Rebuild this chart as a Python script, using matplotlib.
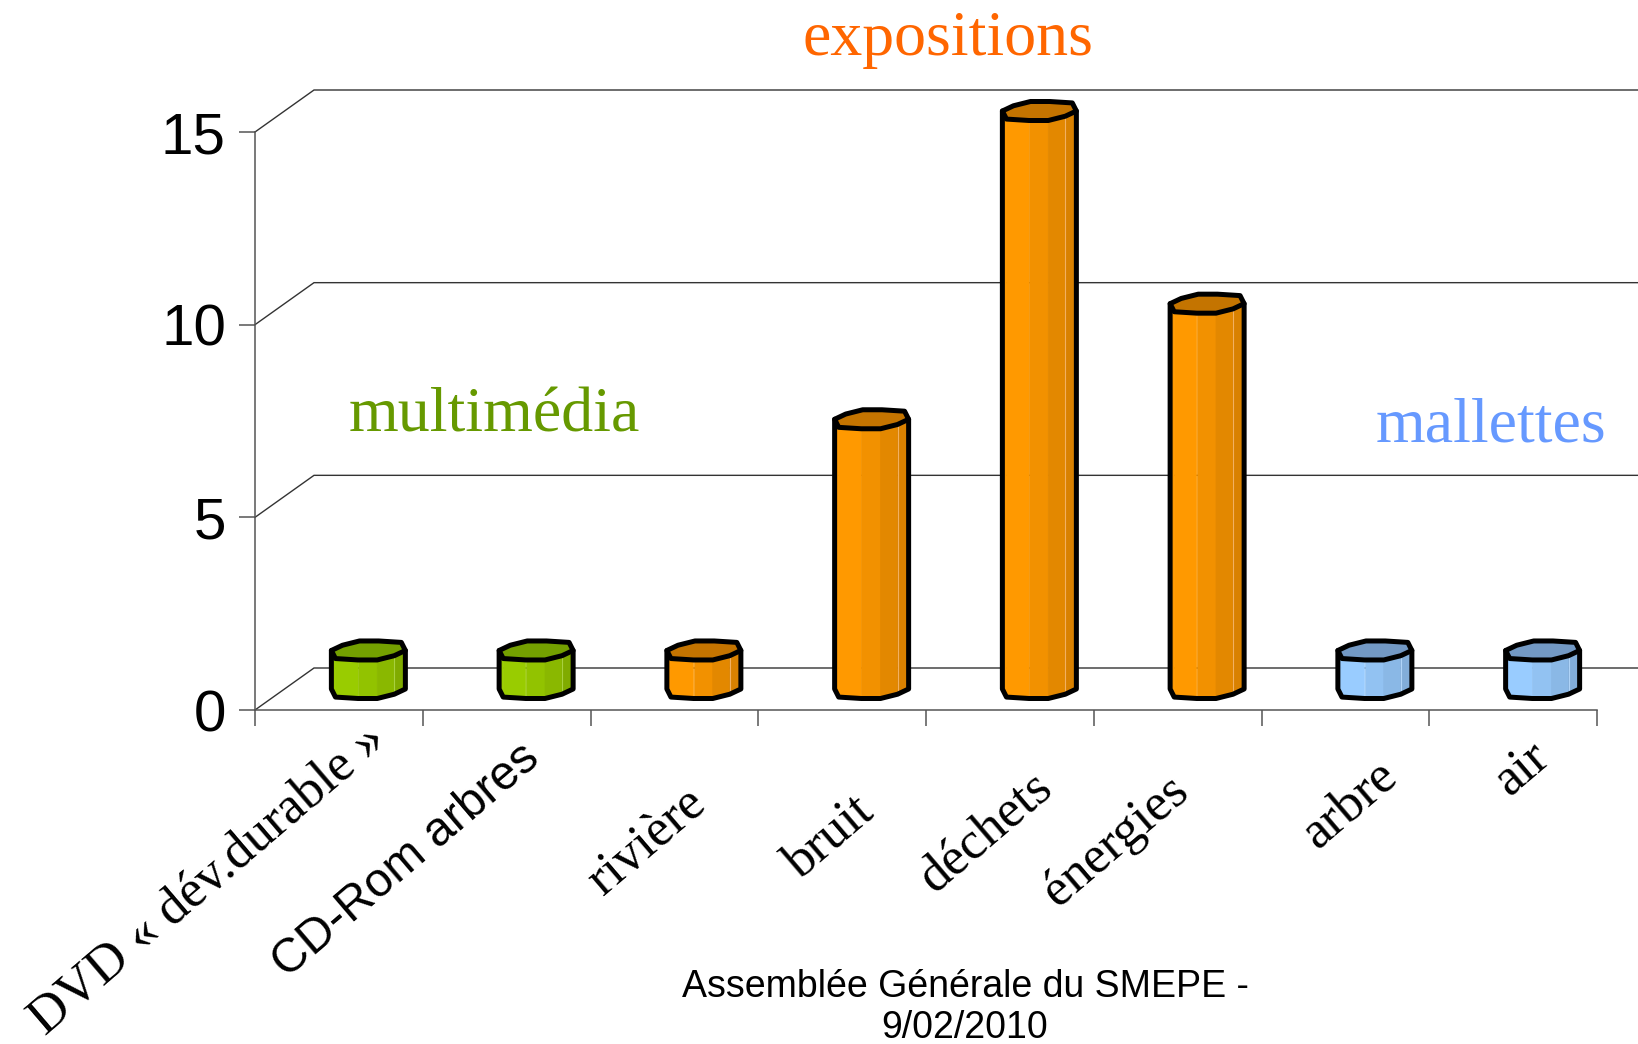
import matplotlib
matplotlib.use('Agg')
import matplotlib.pyplot as plt
from matplotlib.patches import Polygon
import matplotlib.transforms as mtrans
import numpy as np

# ---------------- data ----------------
categories = ['DVD « dév.durable »', 'CD-Rom arbres', 'rivière', 'bruit',
              'déchets', 'énergies', 'arbre', 'air']
values = [1, 1, 1, 7, 15, 10, 1, 1]
groups = ['multimédia', 'multimédia', 'expositions', 'expositions',
          'expositions', 'expositions', 'mallettes', 'mallettes']
group_names = ['multimédia', 'expositions', 'mallettes']
yticks = [0, 5, 10, 15]
footer_lines = ['Assemblée Générale du SMEPE -', '9/02/2010']

# ---------------- styles ----------------
label_fonts = ['serif', 'sans', 'serif', 'serif', 'serif', 'serif', 'serif', 'serif']
# label anchor offsets in pixels (right, down) from the category centre on the axis
label_offsets = [(25, 5), (12, 25), (9, 69), (9, 77), (20, 53), (-11, 56), (30, 41), (14, 22)]
SERIF = ['Liberation Serif', 'DejaVu Serif']
SANS = ['Liberation Sans', 'DejaVu Sans']
group_text_colors = {'multimédia': '#669900', 'expositions': '#FF6600', 'mallettes': '#6699FF'}
facet_colors = {
    'multimédia': ['#99CC00', '#99CC00', '#92C300', '#8AB800', '#80AB00'],
    'expositions': ['#FF9900', '#FF9900', '#F29100', '#E38800', '#D98100'],
    'mallettes': ['#99CCFF', '#99CCFF', '#92C2F2', '#8AB8E6', '#82ADD9'],
}
top_colors = {'multimédia': '#74A000', 'expositions': '#C47400', 'mallettes': '#7399C4'}
highlight_colors = {'multimédia': '#A8D040', 'expositions': '#F2B060', 'mallettes': '#B0D4F8'}

W, H = 1638, 1044
fig = plt.figure(figsize=(W / 100, H / 100), dpi=100)
fig.patch.set_facecolor('white')

x0px, x1px, y0px, y1px = 255, 1597, 710, 132
ax = fig.add_axes([x0px / W, 1 - y0px / H, (x1px - x0px) / W, (y0px - y1px) / H])
n = len(categories)
ax.set_xlim(0, n)
ax.set_ylim(0, max(yticks))
ax.patch.set_visible(False)

px_x = (x1px - x0px) / n
px_y = (y0px - y1px) / max(yticks)
DX = 59 / px_x   # depth offset of the back wall (data units)
DY = 42 / px_y

# back wall gridlines
for g in yticks:
    ax.plot([0, DX, n + 0.5], [g, g + DY, g + DY], color='#333333', lw=1.0,
            clip_on=False, zorder=1, solid_joinstyle='miter')

# axes
for s in ['top', 'right']:
    ax.spines[s].set_visible(False)
for s in ['left', 'bottom']:
    ax.spines[s].set_color('#555555')
    ax.spines[s].set_linewidth(1.1)
    ax.spines[s].set_zorder(2)
ax.set_yticks(yticks)
ax.set_yticklabels([str(t) for t in yticks], fontsize=42, family=SANS)
ax.tick_params(axis='y', length=11.5, width=1.1, color='#555555', pad=9.4, direction='out')
ax.set_xticks(np.arange(0, n + 1))
ax.set_xticklabels([''] * (n + 1))
ax.tick_params(axis='x', length=11.5, width=1.1, color='#555555', direction='out')

# bar cross-section (u: -1..1 across, f: +1 front, -1 back)
front = [(-1.0, 0.0), (-0.89, 0.85), (-0.28, 1.0), (0.24, 1.0), (0.70, 0.55), (1.0, 0.0)]
back = [(-u, -f) for (u, f) in front[1:-1]]
ring = front + back
rx = 37 / px_x
ry = 9.5 / px_y

for i, (v, g) in enumerate(zip(values, groups)):
    cx = i + 0.5 + 0.5 * DX
    ct = v + 0.5 * DY
    cb = 0 + 0.5 * DY
    pt = lambda u, f, c: (cx + u * rx, c - f * ry)
    cols = facet_colors[g]
    for k in range(len(front) - 1):
        (u1, f1), (u2, f2) = front[k], front[k + 1]
        quad = [pt(u1, f1, ct), pt(u2, f2, ct), pt(u2, f2, cb), pt(u1, f1, cb)]
        ax.add_patch(Polygon(quad, closed=True, facecolor=cols[k], edgecolor=cols[k],
                             lw=0.5, zorder=3, clip_on=False))
    uh, fh = front[4]
    ax.plot([pt(uh, fh, ct)[0], pt(uh, fh, cb)[0]], [pt(uh, fh, ct)[1], pt(uh, fh, cb)[1]],
            color=highlight_colors[g], lw=0.8, zorder=3.5, clip_on=False)
    outline = [pt(*front[0], ct)] + [pt(u, f, cb) for (u, f) in front] + [pt(*front[-1], ct)]
    ox, oy = zip(*outline)
    ax.plot(ox, oy, color='black', lw=3.6, solid_joinstyle='round',
            solid_capstyle='round', zorder=4, clip_on=False)
    top = [pt(u, f, ct) for (u, f) in ring]
    ax.add_patch(Polygon(top, closed=True, facecolor=top_colors[g], edgecolor='black',
                         lw=3.6, joinstyle='round', zorder=5, clip_on=False))

# category labels
for i, (lab, fnt, (odx, ody)) in enumerate(zip(categories, label_fonts, label_offsets)):
    fam = SERIF if fnt == 'serif' else SANS
    size = 38 if fnt == 'serif' else 34.5
    offset = mtrans.ScaledTranslation(odx / 100, -ody / 100, fig.dpi_scale_trans)
    ax.text(i + 0.5, 0, lab, rotation=40.5, ha='right', va='top', rotation_mode='anchor',
            transform=ax.transData + offset, fontsize=size, family=fam, color='black',
            clip_on=False)

# group titles
group_pos = {'multimédia': (494, 431), 'expositions': (948, 55), 'mallettes': (1491, 442)}
for gname in group_names:
    gx, gy = group_pos[gname]
    fig.text(gx / W, 1 - gy / H, gname, ha='center', va='baseline', fontsize=46,
             family=SERIF, color=group_text_colors[gname])

# footer
fig.text(965 / W, 1 - 997 / H, footer_lines[0], ha='center', va='baseline',
         fontsize=27, family=SANS, color='black')
fig.text(965 / W, 1 - 1038 / H, footer_lines[1], ha='center', va='baseline',
         fontsize=27, family=SANS, color='black')

fig.savefig('out.png', dpi=100, facecolor='white')
